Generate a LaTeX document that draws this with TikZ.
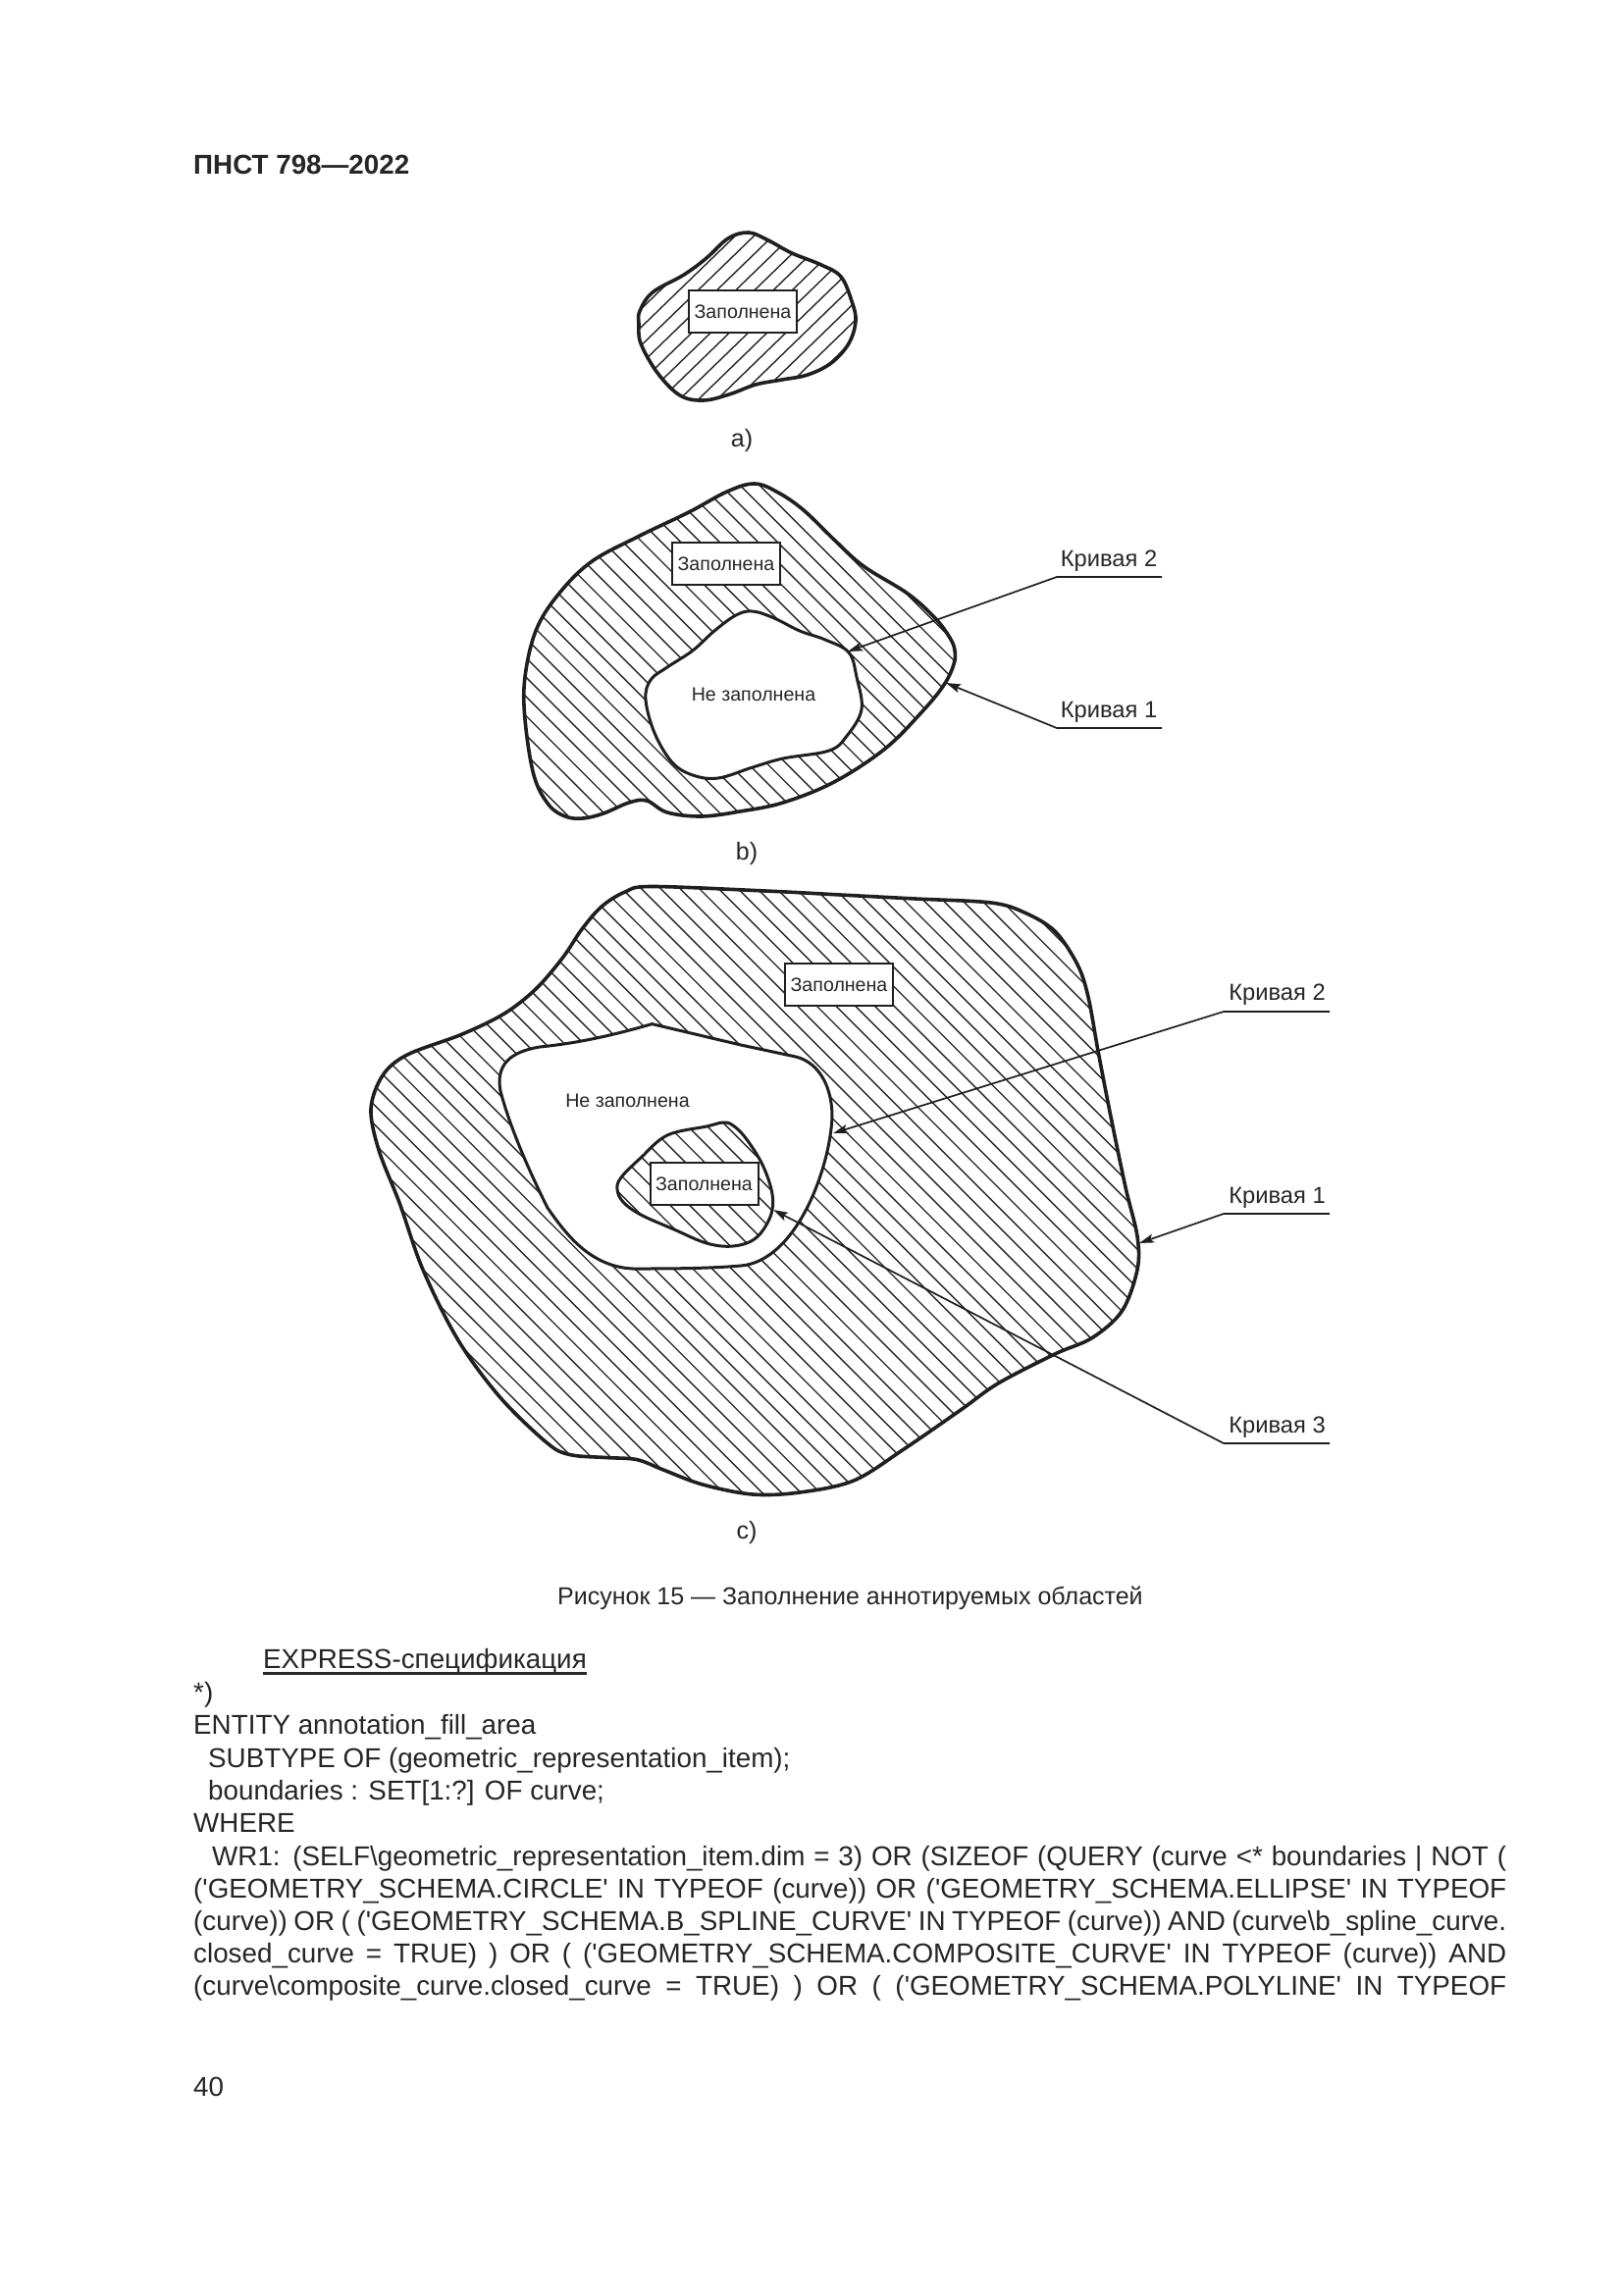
\documentclass[tikz,border=0pt]{standalone}
\usepackage{fontspec}
\setmainfont{Liberation Sans}
\usetikzlibrary{arrows.meta}
\tikzset{
  outline/.style={line width=3.6pt,black!88,line join=round},
  thinout/.style={line width=3pt,black!88,line join=round},
  hatchline/.style={line width=1.4pt,black!85},
  labelbox/.style={draw=black!88,fill=white,line width=2pt,minimum width=110pt,minimum height=43.5pt,inner sep=0pt,font=\fontsize{19.6}{23}\selectfont,text=black!85},
  plain/.style={inner sep=0pt,anchor=base west,text=black!85},
  bodytext/.style={plain,font=\fontsize{27.8}{33}\selectfont},
  curvelabel/.style={inner sep=0pt,anchor=base,text=black!85,font=\fontsize{23.7}{28}\selectfont},
  emptylabel/.style={inner sep=0pt,anchor=base,text=black!85,font=\fontsize{19.6}{24}\selectfont},
  sublabel/.style={inner sep=0pt,anchor=base,text=black!85,font=\fontsize{25}{30}\selectfont},
  leader/.style={line width=1.7pt,black!88,line join=miter},
  tipped/.style={-{Stealth[length=15pt,width=9pt,inset=3pt]}},
}
\newcommand{\hatchB}[3]{\foreach \i in {-60,...,60}{\draw[hatchline] ({#2},{#2-(#1+19.7*\i)}) -- ({#3},{#3-(#1+19.7*\i)});}}
\newcommand{\hatchS}[3]{\foreach \i in {-30,...,30}{\draw[hatchline] ({#2},{#1+18.6*\i-0.97*#2}) -- ({#3},{#1+18.6*\i-0.97*#3});}}
\newlength{\linew}
\newcommand{\jline}[1]{\makebox[\linew][s]{#1}}
\newcommand{\qs}{\textquotesingle}
\begin{document}
\begin{tikzpicture}[x=1pt,y=-1pt]
\useasboundingbox (0,0) rectangle (1654,2339);
\fill[white] (0,0) rectangle (1654,2339);

% ---------- a ----------
\path[save path=\pathA] plot[smooth cycle,tension=0.6] coordinates {
 (652,317)(665,298)(697,280)(720,263)(742,243)(763,237)(783,245)(807,258)(837,270)(857,282)(868,307)(872,327)(865,350)(847,370)(823,382)(797,387)(770,392)(743,402)(717,408)(693,403)(670,380)(653,350)(651,330)};
\begin{scope}
\clip[use path=\pathA];
\hatchS{1041.6}{640}{880}
\end{scope}
\draw[outline,use path=\pathA];
\node[labelbox] (fa) at (757,317.5) {Заполнена};
\node[sublabel] (la) at (756,455) {а)};

% ---------- b ----------
\path[save path=\pathB] plot[smooth cycle,tension=0.6] coordinates {
 (769,493)(741,501)(702,522)(650,547)(602,573)(568,607)(546,643)(535,690)(535,733)(544,790)(559,820)(576,832)(594,834)(615,829)(641,818)(659,816)(680,828)(715,832)(754,827)(798,818)(850,797)(902,763)(940,725)(962,698)(972,677)(973,663)(968,650)(953,630)(925,605)(880,577)(850,550)(819,520)(793,502)};
\path[save path=\pathBi] plot[smooth cycle,tension=0.6] coordinates {
 (767,623)(750,627)(728,643)(706,663)(680,680)(663,693)(658,713)(667,747)(685,777)(706,790)(732,793)(767,782)(798,773)(845,765)(863,750)(878,723)(873,690)(865,665)(841,652)(815,643)(789,630)};
\begin{scope}
\clip[use path=\pathB];
\hatchB{-95}{520}{990}
\end{scope}
\fill[white,use path=\pathBi];
\draw[outline,use path=\pathB];
\draw[thinout,use path=\pathBi];
\node[labelbox] (fb) at (740,574.5) {Заполнена};
\node[emptylabel] (eb) at (768,714.5) {Не заполнена};
\node[sublabel] (lb) at (761,876) {b)};
\node[curvelabel] (kb2) at (1130,577.5) {Кривая 2};
\node[curvelabel] (kb1) at (1130,731.5) {Кривая 1};
\coordinate (b2r) at (1184,588);
\coordinate (b2l) at (1077,588);
\coordinate (b2t) at (864,664);
\coordinate (b1r) at (1184,742);
\coordinate (b1l) at (1077,742);
\coordinate (b1t) at (964,696);
\draw[leader,tipped] (b2r) -- (b2l) -- (b2t);
\draw[leader,tipped] (b1r) -- (b1l) -- (b1t);

% ---------- c ----------
\path[save path=\pathC] plot[smooth cycle,tension=0.55] coordinates {
 (664,903.5)(637,909)(613,924)(593,947)(573.5,976)(546,1008)(514,1033)(471,1054)(415,1075)(390,1096)(378,1130)(386,1172)(407.5,1227)(431,1294)(467,1366)(510,1424.5)(558,1471)(581,1482.6)(617,1485.5)(649,1487.6)(676,1498)(716,1513)(767,1523)(815,1521)(870,1509)(921,1477)(979,1437)(1017,1410)(1075,1380)(1113,1363.5)(1143.5,1336)(1159,1294)(1159,1260)(1147,1210)(1132,1138)(1119,1071)(1109,1016)(1098,983)(1075,949)(1044,930)(1010,920)(933,916)(856.5,912)(780,908)};
\path[save path=\pathCi] (664.5,1043.6) -- (700,1052) -- (755,1065) -- (811,1077)
 .. controls (835,1083) and (848,1108) .. (848,1138)
 .. controls (846,1190) and (812,1285) .. (755,1290)
 .. controls (720,1293) and (680,1293) .. (645,1293)
 .. controls (600,1291) and (575,1255) .. (558,1231)
 .. controls (540,1195) and (520,1150) .. (510,1112)
 .. controls (505,1085) and (520,1072) .. (550,1067)
 .. controls (590,1063) and (625,1055) .. (664.5,1043.6) -- cycle;
\path[save path=\pathCs] plot[smooth cycle,tension=0.6] coordinates {
 (737,1144)(720,1148)(680,1157)(653,1180)(633,1200)(629,1212)(635,1225)(653,1238)(687,1253)(720,1267)(747,1270)(770,1262)(785,1240)(787,1217)(777,1187)(760,1160)(747,1147)};
\begin{scope}
\clip[use path=\pathC];
\hatchB{-390}{360}{1180}
\end{scope}
\fill[white,use path=\pathCi];
\begin{scope}
\clip[use path=\pathCs];
\hatchB{-545.3}{620}{800}
\end{scope}
\draw[outline,use path=\pathC];
\draw[thinout,use path=\pathCi];
\draw[thinout,use path=\pathCs];
\node[labelbox] (fc) at (855,1003.7) {Заполнена};
\node[labelbox] (fs) at (717.5,1206.5) {Заполнена};
\node[emptylabel] (ec) at (639.5,1128) {Не заполнена};
\node[sublabel] (lc) at (761,1568) {c)};
\node[curvelabel] (kc2) at (1301.5,1019.5) {Кривая 2};
\node[curvelabel] (kc1) at (1301.5,1226) {Кривая 1};
\node[curvelabel] (kc3) at (1301.5,1460) {Кривая 3};
\coordinate (c2r) at (1355,1031);
\coordinate (c2l) at (1247,1031);
\coordinate (c2t) at (849,1155);
\coordinate (c1r) at (1355,1237);
\coordinate (c1l) at (1247,1237);
\coordinate (c1t) at (1161,1267);
\coordinate (c3r) at (1355,1471);
\coordinate (c3l) at (1247,1471);
\coordinate (c3t) at (788,1233);
\draw[leader,tipped] (c2r) -- (c2l) -- (c2t);
\draw[leader,tipped] (c1r) -- (c1l) -- (c1t);
\draw[leader,tipped] (c3r) -- (c3l) -- (c3t);

% ---------- page text ----------
\node[plain,font=\fontsize{27.8}{33}\selectfont\bfseries] (head) at (197,177) {ПНСТ 798—2022};
\node[plain,font=\fontsize{25}{30}\selectfont] (cap) at (568,1635) {Рисунок 15 — Заполнение аннотируемых областей};
\node[bodytext] (expr) at (268,1700.5) {EXPRESS-спецификация};
\draw[line width=2.4pt,black!85] ([yshift=-5pt]expr.base west) -- ([yshift=-5pt]expr.base east);
\node[bodytext] (t1) at (197,1734) {*)};
\node[bodytext] (t2) at (197,1767.7) {ENTITY annotation\_fill\_area};
\node[bodytext] (t3) at (212,1801) {SUBTYPE OF (geometric\_representation\_item);};
\node[bodytext] (t4) at (212,1834.3) {boundaries : SET[1:?] OF curve;};
\node[bodytext] (t5) at (197,1867.7) {WHERE};
\setlength{\linew}{1319pt}
\node[bodytext] (t6) at (216,1901) {\jline{WR1: (SELF\textbackslash geometric\_representation\_item.dim = 3) OR (SIZEOF (QUERY (curve <* boundaries | NOT (}};
\setlength{\linew}{1338pt}
\node[bodytext] (t7) at (197,1934.3) {\jline{(\qs GEOMETRY\_SCHEMA.CIRCLE\qs{} IN TYPEOF (curve)) OR (\qs GEOMETRY\_SCHEMA.ELLIPSE\qs{} IN TYPEOF}};
\node[bodytext] (t8) at (197,1967.7) {\jline{(curve)) OR ( (\qs GEOMETRY\_SCHEMA.B\_SPLINE\_CURVE\qs{} IN TYPEOF (curve)) AND (curve\textbackslash b\_spline\_curve.}};
\node[bodytext] (t9) at (197,2000.5) {\jline{closed\_curve = TRUE) ) OR ( (\qs GEOMETRY\_SCHEMA.COMPOSITE\_CURVE\qs{} IN TYPEOF (curve)) AND}};
\node[bodytext] (t10) at (197,2033.5) {\jline{(curve\textbackslash composite\_curve.closed\_curve = TRUE) ) OR ( (\qs GEOMETRY\_SCHEMA.POLYLINE\qs{} IN TYPEOF}};
\node[bodytext] (pg) at (197,2136) {40};
\end{tikzpicture}
\end{document}
